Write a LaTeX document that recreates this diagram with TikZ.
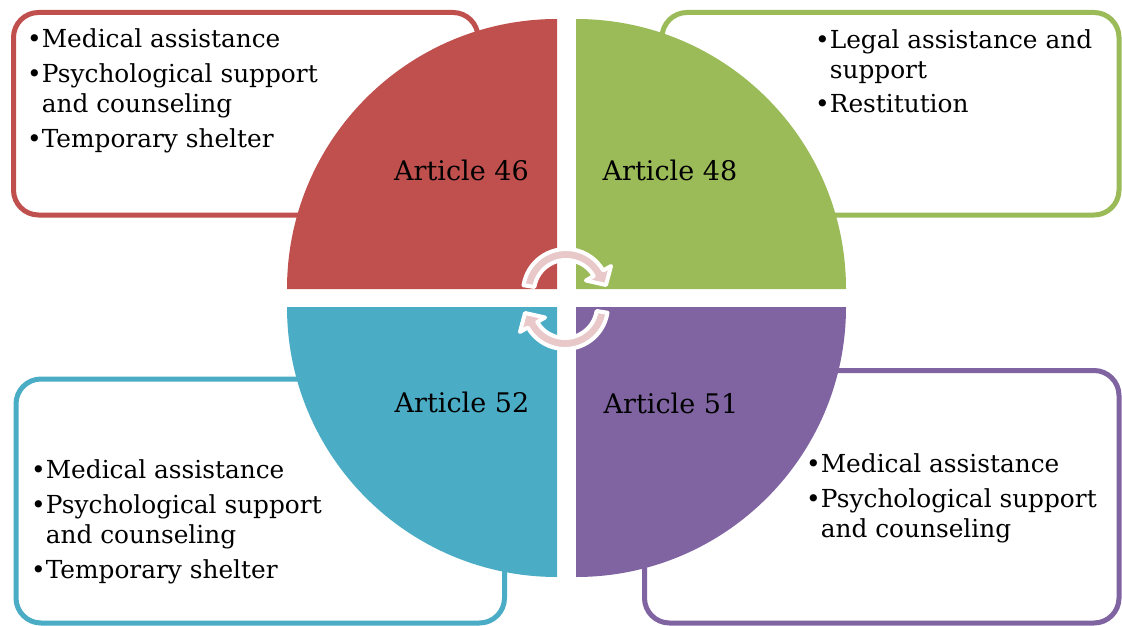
\documentclass[tikz,border=0pt]{standalone}
\usepackage{fontspec}
\setmainfont{DejaVu Serif}
\definecolor{cRed}{HTML}{C0504D}
\definecolor{cGreen}{HTML}{9BBB59}
\definecolor{cBlue}{HTML}{4BACC6}
\definecolor{cPurple}{HTML}{8064A2}
\definecolor{cPink}{RGB}{232,200,200}
\newcommand\mycircarrow{%
  \path[draw=white, line width=4pt, fill=cPink, line join=round]
    (-171:43) arc[start angle=-171,end angle=-30,radius=43]
    -- (-30:52) -- (40,-7) -- (-30:23) -- (-30:32)
    arc[start angle=-30,end angle=-171,radius=32] -- cycle;}
\begin{document}
\begin{tikzpicture}[x=1pt,y=-1pt,
  infobox/.style={draw, line width=5pt, rounded corners=25pt, fill=white},
  bodytext/.style={anchor=base west, align=left, inner sep=0pt,
    font=\fontsize{24.8}{30}\selectfont},
  arttext/.style={anchor=base, inner sep=0pt, font=\fontsize{27}{30}\selectfont}]
\useasboundingbox (0,0) rectangle (1122,626);
\fill[white] (0,0) rectangle (1122,626);
% boxes
\draw[infobox, draw=cRed]    (13.5,12.5) rectangle (478,215);
\draw[infobox, draw=cGreen]  (662,12.5) rectangle (1119,215);
\draw[infobox, draw=cBlue]   (16,379) rectangle (504.5,623);
\draw[infobox, draw=cPurple] (644.5,370.5) rectangle (1119,623);
% pie
\fill[cRed]    (557,289) -- ++(-180:270) arc[start angle=-180,end angle=-90,radius=270] -- cycle;
\fill[cGreen]  (576,289) -- ++(-90:270) arc[start angle=-90,end angle=0,radius=270] -- cycle;
\fill[cBlue]   (557,307) -- ++(180:270) arc[start angle=180,end angle=90,radius=270] -- cycle;
\fill[cPurple] (576,307) -- ++(0:270) arc[start angle=0,end angle=90,radius=270] -- cycle;
% cycle arrows
\begin{scope}[shift={(566,292)}]\mycircarrow\end{scope}
\begin{scope}[shift={(565,306)},rotate=180]\mycircarrow\end{scope}
% labels
\node[arttext] (a46) at (461.5,180) {Article 46};
\node[arttext] (a48) at (670,180) {Article 48};
\node[arttext] (a52) at (462,412) {Article 52};
\node[arttext] (a51) at (671,413) {Article 51};
% texts (base anchor = baseline of the last line)
\node[bodytext] (t46) at (27,147) {•Medical assistance\\[5pt]•Psychological support\\\hphantom{•}and counseling\\[5pt]•Temporary shelter};
\node[bodytext] (t48) at (815,113) {•Legal assistance and\\\hphantom{•}support\\[5pt]•Restitution};
\node[bodytext] (t52) at (31,578) {•Medical assistance\\[5pt]•Psychological support\\\hphantom{•}and counseling\\[5pt]•Temporary shelter};
\node[bodytext] (t51) at (806,537) {•Medical assistance\\[5pt]•Psychological support\\\hphantom{•}and counseling};
\end{tikzpicture}
\end{document}
